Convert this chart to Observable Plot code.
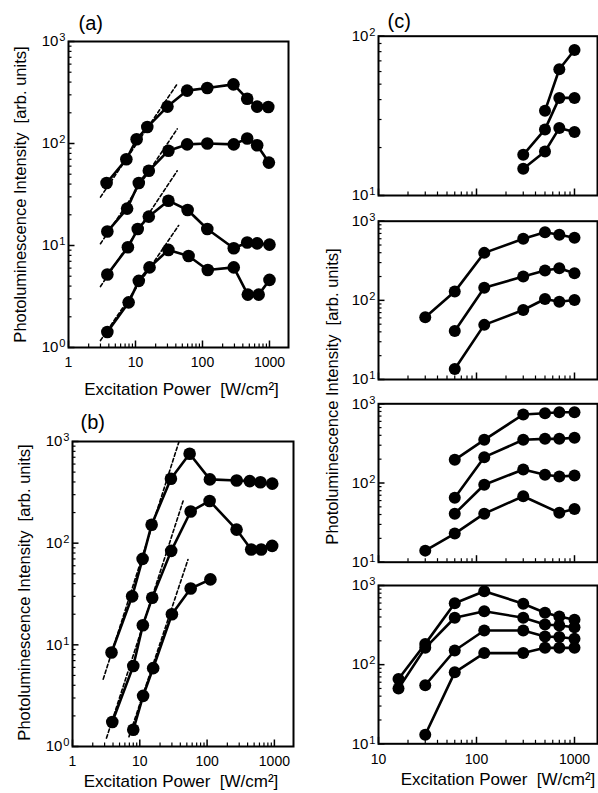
<!DOCTYPE html>
<html><head><meta charset="utf-8">
<script src="https://cdn.jsdelivr.net/npm/d3@7"></script>
<script src="https://cdn.jsdelivr.net/npm/@observablehq/plot@0.6"></script>
<style>
body{margin:0;background:#fff}
#fig{position:relative;width:598px;height:793px;overflow:hidden;background:#fff}
#fig svg{position:absolute}
</style>
</head><body><div id="fig"></div>
<script>
// ---------- data ----------
const xTicksAB = [1, 10, 100, 1000];
const yTicksAB = [1, 10, 100, 1000];
const xTicksC = [10, 100, 1000];
const yTicksC1 = [10, 100];
const yTicksC = [10, 100, 1000];
const xTitle = "Excitation Power\u00a0 [W/cm²]";
const yTitle = "Photoluminescence Intensity\u00a0 [arb. units]";

// panel (a)
const a1x = [3.7, 7.3, 10.4, 15, 30, 59, 118, 290, 465, 655, 960];
const a1y = [41, 70, 110, 145, 230, 330, 350, 380, 275, 230, 228];
const a2x = [3.8, 7.5, 11.2, 15.8, 31, 59, 118, 293, 465, 655, 980];
const a2y = [13.7, 23, 41, 54, 85, 98, 100, 98, 112, 96, 65];
const a3x = [3.8, 7.7, 10.8, 15.8, 31, 60, 118, 293, 465, 655, 1000];
const a3y = [5.2, 9.6, 14.5, 19.2, 27.5, 22.3, 14.5, 9.4, 10.7, 10.5, 10.2];
const a4x = [3.8, 7.9, 11.2, 16.2, 31, 62, 120, 293, 475, 690, 1000];
const a4y = [1.42, 2.77, 4.5, 6.1, 9.05, 7.9, 5.75, 6.1, 3.3, 3.3, 4.6];
const aDashX = [[3.0, 42], [3.0, 42], [3.0, 42], [3.0, 44]];
const aDashY = [[29.8, 384], [10.4, 139], [3.96, 54], [1.17, 15.7]];

// panel (b)
const b1x = [3.8, 7.7, 11, 15, 29, 55, 110, 275, 430, 620, 930];
const b1y = [8.4, 30, 70, 152, 430, 757, 424, 414, 408, 398, 385];
const b2x = [3.9, 8, 11.1, 15.3, 29.3, 57, 109, 274, 452, 637, 927];
const b2y = [1.74, 6.2, 15.6, 29, 84, 205, 260, 136, 86.5, 86.5, 94];
const b3x = [8, 11.2, 15.8, 30, 57, 112];
const b3y = [1.46, 3.15, 5.9, 20, 35.8, 44];
const bDashX = [[2.86, 38], [3.2, 44], [6.9, 52]];
const bDashY = [[4.6, 985], [1.21, 260], [1.25, 69]];

// panel (c), four stacked frames
const c1ax = [500, 700, 1000];           const c1ay = [34, 62, 82];
const c1bx = [300, 500, 700, 1000];      const c1by = [18, 26, 41, 41];
const c1cx = [300, 500, 700, 1000];      const c1cy = [14.7, 18.9, 26.5, 25];

const c2ax = [30, 60, 120, 300, 500, 700, 1000]; const c2ay = [61, 129, 398, 600, 727, 673, 617];
const c2bx = [60, 120, 300, 500, 700, 1000];     const c2by = [41, 144, 200, 238, 254, 220];
const c2cx = [60, 120, 300, 500, 700, 1000];     const c2cy = [13.6, 49, 75.5, 104, 96, 101];

const c3ax = [60, 120, 300, 500, 700, 1000];     const c3ay = [196, 351, 732, 761, 783, 783];
const c3bx = [60, 120, 300, 500, 700, 1000];     const c3by = [65, 212, 351, 361, 361, 372];
const c3cx = [60, 120, 300, 500, 700, 1000];     const c3cy = [41, 95, 148, 127, 121, 124];
const c3dx = [30, 60, 120, 300, 700, 1000];      const c3dy = [14, 23, 41, 68, 42, 47];

const c4ax = [16, 30, 60, 120, 300, 500, 700, 1000]; const c4ay = [66, 183, 597, 847, 588, 452, 406, 369];
const c4bx = [16, 30, 60, 120, 300, 500, 700, 1000]; const c4by = [50, 163, 391, 473, 391, 321, 312, 297];
const c4cx = [30, 60, 120, 300, 500, 700, 1000];     const c4cy = [55, 151, 270, 270, 227, 223, 212];
const c4dx = [30, 60, 120, 300, 500, 700, 1000];     const c4dy = [13, 80, 140, 140, 163, 163, 163];

// ---------- drawing ----------
const FONT = "'Liberation Sans', Arial, Helvetica, sans-serif";
const fig = document.getElementById("fig");

function decadeTicks(domain) {
  const out = {major: [], minor: []};
  const lo = Math.floor(Math.log10(domain[0])), hi = Math.ceil(Math.log10(domain[1]));
  for (let d = lo; d <= hi; d++) for (let k = 1; k <= 9; k++) {
    const v = k * Math.pow(10, d);
    if (v < domain[0] * 0.999 || v > domain[1] * 1.001) continue;
    (k === 1 ? out.major : out.minor).push(v);
  }
  return out;
}

function toRows(xs, ys) {
  return xs.flatMap((x, j) => x.map((v, i) => ({x: v, y: ys[j][i], id: j})));
}

function panel(o) {
  const ml = o.fl - o.left, mt = o.ft - o.top;
  const mr = o.left + o.width - o.fr, mb = o.top + o.height - o.fb;
  const fw = o.fr - o.fl, fh = o.fb - o.ft;
  const xt = decadeTicks(o.xDomain), yt = decadeTicks(o.yDomain);
  const rows = toRows(o.sx, o.sy);
  const marks = [
    Plot.ruleX(xt.minor, {x: d => d, insetTop: fh - 3.5, stroke: "black", strokeWidth: 1.2}),
    Plot.ruleX(xt.major, {x: d => d, insetTop: fh - 6.5, stroke: "black", strokeWidth: 1.5}),
    Plot.ruleY(yt.minor, {y: d => d, insetRight: fw - 3.5, stroke: "black", strokeWidth: 1.2}),
    Plot.ruleY(yt.major, {y: d => d, insetRight: fw - 6.5, stroke: "black", strokeWidth: 1.5}),
    Plot.axisY({ticks: o.yTicks, tickFormat: d => "10^" + Math.round(Math.log10(d)),
      tickSize: 0, tickPadding: 3, fontSize: 15, label: null})
  ];
  if (o.xTicks) marks.push(Plot.axisX({ticks: o.xTicks, tickFormat: d => String(d),
      tickSize: 0, tickPadding: 10, fontSize: 14, label: null}));
  if (o.dx) marks.push(Plot.line(toRows(o.dx, o.dy), {x: "x", y: "y", z: "id",
      stroke: "black", strokeWidth: 1.6, strokeDasharray: "3.5,2.5"}));
  marks.push(
    Plot.line(rows, {x: "x", y: "y", z: "id", stroke: "black", strokeWidth: 2.6}),
    Plot.dot(rows, {x: "x", y: "y", r: o.r, fill: "black", stroke: "none"}),
    Plot.frame({stroke: "black", strokeWidth: 2})
  );
  if (o.tag) marks.push(Plot.text([o.tag], {text: d => d, frameAnchor: "top-left",
      textAnchor: "start", lineAnchor: "middle", dx: o.tagDx, dy: o.tagDy, fontSize: 20}));
  if (o.xTitle) marks.push(Plot.text([o.xTitle], {text: d => d, frameAnchor: "bottom",
      textAnchor: "middle", lineAnchor: "middle", dx: o.xTitleDx, dy: o.xTitleDy, fontSize: 17}));
  if (o.yTitle) marks.push(Plot.text([o.yTitle], {text: d => d, frameAnchor: "left",
      textAnchor: "middle", lineAnchor: "middle",
      rotate: -90, dx: o.yTitleDx, dy: o.yTitleDy, fontSize: 16.5}));

  const svg = Plot.plot({
    width: o.width, height: o.height,
    marginLeft: ml, marginTop: mt, marginRight: mr, marginBottom: mb,
    style: {overflow: "visible", background: "none", fontFamily: FONT, color: "black"},
    x: {type: "log", domain: o.xDomain, axis: o.xTicks ? undefined : null},
    y: {type: "log", domain: o.yDomain},
    marks
  });
  // superscript exponents on y tick labels
  d3.select(svg).selectAll('g[aria-label="y-axis tick label"] text').each(function () {
    const m = /^10\^(\d)$/.exec(this.textContent);
    if (m) {
      this.textContent = "10";
      d3.select(this).append("tspan").attr("dx", "0.08em").attr("dy", "-0.45em")
        .attr("font-size", "0.74em").text(m[1]);
    }
  });
  svg.style.left = o.left + "px";
  svg.style.top = o.top + "px";
  fig.appendChild(svg);
}

panel({left: 0, top: 0, width: 300, height: 400, fl: 68, ft: 41, fr: 288, fb: 347,
  xDomain: [1, 1923], yDomain: [1, 1000], xTicks: xTicksAB, yTicks: yTicksAB, r: 6.3,
  sx: [a1x, a2x, a3x, a4x], sy: [a1y, a2y, a3y, a4y], dx: aDashX, dy: aDashY,
  tag: "(a)", tagDx: 10, tagDy: -18.4, xTitle, xTitleDx: 3, xTitleDy: 42,
  yTitle, yTitleDx: -48, yTitleDy: 0});

panel({left: 0, top: 400, width: 300, height: 393, fl: 72, ft: 441, fr: 293, fb: 746,
  xDomain: [1, 1923], yDomain: [1, 1000], xTicks: xTicksAB, yTicks: yTicksAB, r: 6.3,
  sx: [b1x, b2x, b3x], sy: [b1y, b2y, b3y], dx: bDashX, dy: bDashY,
  tag: "(b)", tagDx: 8, tagDy: -19.4, xTitle, xTitleDx: -2, xTitleDy: 35.5,
  yTitle, yTitleDx: -48, yTitleDy: -1.5});

panel({left: 300, top: 0, width: 298, height: 208, fl: 378, ft: 35.7, fr: 597, fb: 195,
  xDomain: [10, 1717], yDomain: [10, 100], yTicks: yTicksC1, r: 6,
  sx: [c1ax, c1bx, c1cx], sy: [c1ay, c1by, c1cy],
  tag: "(c)", tagDx: 9, tagDy: -14.6});

panel({left: 300, top: 208, width: 298, height: 182, fl: 378, ft: 220.7, fr: 597, fb: 379,
  xDomain: [10, 1717], yDomain: [10, 1000], yTicks: yTicksC, r: 6,
  sx: [c2ax, c2bx, c2cx], sy: [c2ay, c2by, c2cy]});

panel({left: 300, top: 390, width: 298, height: 182, fl: 378, ft: 403.3, fr: 597, fb: 561.7,
  xDomain: [10, 1717], yDomain: [10, 1000], yTicks: yTicksC, r: 6,
  sx: [c3ax, c3bx, c3cx, c3dx], sy: [c3ay, c3by, c3cy, c3dy],
  yTitle, yTitleDx: -46, yTitleDy: -86.5});

panel({left: 300, top: 572, width: 298, height: 221, fl: 378, ft: 585, fr: 597, fb: 743.3,
  xDomain: [10, 1717], yDomain: [10, 1000], xTicks: xTicksC, yTicks: yTicksC, r: 6,
  sx: [c4ax, c4bx, c4cx, c4dx], sy: [c4ay, c4by, c4cy, c4dy],
  xTitle, xTitleDx: 10, xTitleDy: 36});
</script>
</body></html>
